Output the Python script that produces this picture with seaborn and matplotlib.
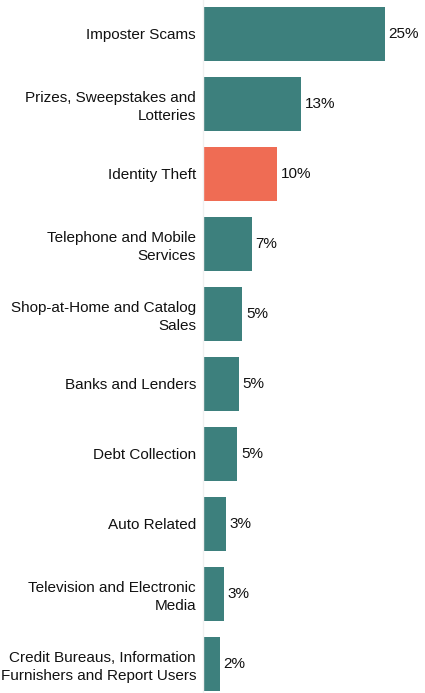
import matplotlib
matplotlib.use("Agg")
import matplotlib.pyplot as plt
import seaborn as sns
import pandas as pd

categories = [
    "Imposter Scams",
    "Prizes, Sweepstakes and\nLotteries",
    "Identity Theft",
    "Telephone and Mobile\nServices",
    "Shop-at-Home and Catalog\nSales",
    "Banks and Lenders",
    "Debt Collection",
    "Auto Related",
    "Television and Electronic\nMedia",
    "Credit Bureaus, Information\nFurnishers and Report Users",
]
values = [25.0, 13.5, 10.2, 6.7, 5.4, 4.9, 4.7, 3.2, 2.9, 2.3]
labels = ["25%", "13%", "10%", "7%", "5%", "5%", "5%", "3%", "3%", "2%"]
highlight = "Identity Theft"

teal = "#3d807d"
orange = "#ef6c54"

sns.set_theme(style="white")
plt.rcParams['font.family'] = ['Liberation Sans', 'DejaVu Sans']

df = pd.DataFrame({"cat": categories, "val": values})
palette = {c: (orange if c == highlight else teal) for c in categories}

fig = plt.figure(figsize=(4.25, 6.93), dpi=100)
ax = fig.add_axes([203/425, 0, 1 - 203/425, 1])
sns.barplot(data=df, x="val", y="cat", hue="cat", palette=palette, legend=False,
            width=0.77, ax=ax, saturation=1, linewidth=0)

ax.set_xlim(0, (425 - 203) / 7.28)
ax.set_ylim(9.42, -0.48)
ax.set_xlabel("")
ax.set_ylabel("")
ax.set_xticks([])
for s in ["top", "right", "bottom"]:
    ax.spines[s].set_visible(False)
ax.spines["left"].set_color("#f0f0f0")
ax.spines["left"].set_linewidth(1)
ax.tick_params(axis="y", length=0, pad=5, labelsize=11, labelcolor="#111111")
for t in ax.get_yticklabels():
    t.set_horizontalalignment("right")
    t.set_linespacing(1.35)

for i, (v, lab) in enumerate(zip(values, labels)):
    ax.text(v + 0.5, i, lab, va="center", ha="left", fontsize=11, color="#111111")

fig.savefig("out.png", dpi=100)
